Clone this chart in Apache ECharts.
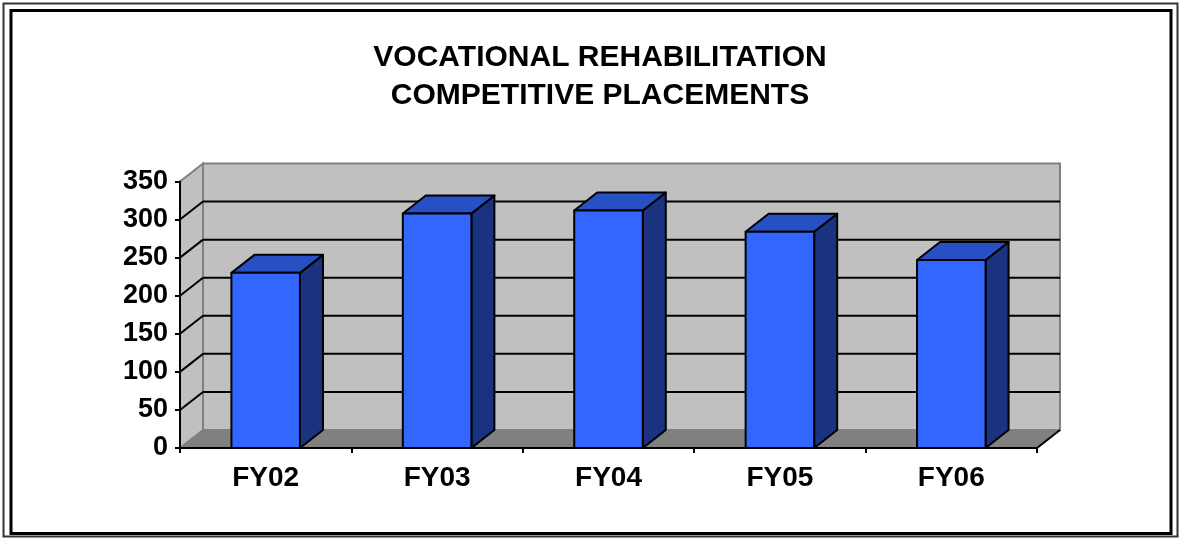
<!DOCTYPE html>
<html>
<head>
<meta charset="utf-8">
<script src="https://cdn.jsdelivr.net/npm/echarts@6/dist/echarts.min.js"></script>
<style>
  html, body { margin: 0; padding: 0; background: #fff; }
  #chart { width: 1181px; height: 538px; }
</style>
</head>
<body>
<div id="chart"></div>
<script>
// chart data
var titleLines = ['VOCATIONAL REHABILITATION', 'COMPETITIVE PLACEMENTS'];
var categories = ['FY02', 'FY03', 'FY04', 'FY05', 'FY06'];
var placements = [230, 308, 312, 284, 247];
var yMax = 350;
var yStep = 50;
var gridValues = [50, 100, 150, 200, 250, 300];

// 3d depth offset (px)
var DX = 23, DY = -18;
var FONT = '"Liberation Sans", Arial, sans-serif';

var myChart = echarts.init(document.getElementById('chart'));

var barData = categories.map(function(c, i) { return [i, placements[i]]; });

function renderWalls(params, api) {
    var cs = params.coordSys;
    var x0 = cs.x, x1 = cs.x + cs.width;
    var yt = api.coord([0, yMax])[1];
    var yb = api.coord([0, 0])[1];
    return {
        type: 'group',
        children: [{
            // back wall
            type: 'polygon',
            shape: { points: [[x0 + DX, yt + DY], [x1 + DX, yt + DY], [x1 + DX, yb + DY], [x0 + DX, yb + DY]] },
            style: { fill: '#c0c0c0', stroke: '#808080', lineWidth: 2 }
        }, {
            // left wall
            type: 'polygon',
            shape: { points: [[x0, yt], [x0 + DX, yt + DY], [x0 + DX, yb + DY], [x0, yb]] },
            style: { fill: '#c0c0c0', stroke: '#808080', lineWidth: 2 }
        }, {
            // floor
            type: 'polygon',
            shape: { points: [[x0, yb], [x0 + DX, yb + DY], [x1 + DX, yb + DY], [x1, yb]] },
            style: { fill: '#808080', stroke: '#808080', lineWidth: 1 }
        }, {
            type: 'line',
            shape: { x1: x1, y1: yb, x2: x1 + DX, y2: yb + DY },
            style: { stroke: '#000', lineWidth: 2 }
        }]
    };
}

function renderGridLine(params, api) {
    var cs = params.coordSys;
    var x0 = cs.x, x1 = cs.x + cs.width;
    var y = api.coord([0, api.value(0)])[1];
    return {
        type: 'group',
        children: [{
            type: 'line',
            shape: { x1: x0 + DX, y1: y + DY, x2: x1 + DX, y2: y + DY },
            style: { stroke: '#000', lineWidth: 2 }
        }, {
            type: 'line',
            shape: { x1: x0, y1: y, x2: x0 + DX, y2: y + DY },
            style: { stroke: '#000', lineWidth: 2 }
        }]
    };
}

function renderBar(params, api) {
    var top = api.coord([api.value(0), api.value(1)]);
    var base = api.coord([api.value(0), 0]);
    var bw = api.size([1, 0])[0] * 0.4;
    var xl = top[0] - bw / 2, xr = top[0] + bw / 2;
    var yt = top[1], yb = base[1];
    var edge = { stroke: '#000', lineWidth: 2, lineJoin: 'round' };
    return {
        type: 'group',
        children: [{
            type: 'polygon',
            shape: { points: [[xr, yt], [xr + DX, yt + DY], [xr + DX, yb + DY], [xr, yb]] },
            style: Object.assign({ fill: '#1a3380' }, edge)
        }, {
            type: 'polygon',
            shape: { points: [[xl, yt], [xl + DX, yt + DY], [xr + DX, yt + DY], [xr, yt]] },
            style: Object.assign({ fill: '#2650c4' }, edge)
        }, {
            type: 'polygon',
            shape: { points: [[xl, yt], [xr, yt], [xr, yb], [xl, yb]] },
            style: Object.assign({ fill: '#3366ff' }, edge)
        }]
    };
}

var option = {
    backgroundColor: '#ffffff',
    animation: false,
    graphic: [{
        type: 'rect',
        shape: { x: 3.5, y: 3.5, width: 1174, height: 533 },
        style: { fill: 'none', stroke: '#333', lineWidth: 2 }
    }, {
        type: 'rect',
        shape: { x: 11, y: 10.5, width: 1160, height: 523 },
        style: { fill: 'none', stroke: '#000', lineWidth: 3 }
    }, {
        type: 'text',
        x: 600,
        y: 39,
        style: {
            text: titleLines.join('\n'),
            fill: '#000',
            font: 'bold 30px ' + FONT,
            fontSize: 30,
            fontWeight: 'bold',
            fontFamily: FONT,
            lineHeight: 38,
            align: 'center',
            verticalAlign: 'top',
            textAlign: 'center',
            textVerticalAlign: 'top'
        }
    }],
    grid: {
        left: 180,
        right: 144,
        top: 181.5,
        bottom: 90
    },
    xAxis: {
        type: 'category',
        data: categories,
        z: 5,
        axisLine: { lineStyle: { color: '#000', width: 2 } },
        axisTick: { show: true, length: 5, lineStyle: { color: '#000', width: 2 } },
        axisLabel: {
            color: '#000',
            fontSize: 28,
            fontWeight: 'bold',
            fontFamily: FONT,
            margin: 16
        },
        splitLine: { show: false }
    },
    yAxis: {
        type: 'value',
        min: 0,
        max: yMax,
        interval: yStep,
        z: 5,
        axisLine: { show: true, lineStyle: { color: '#000', width: 2 } },
        axisTick: { show: true, length: 5, lineStyle: { color: '#000', width: 2 } },
        axisLabel: {
            color: '#000',
            fontSize: 27,
            fontWeight: 'bold',
            fontFamily: FONT,
            margin: 12
        },
        splitLine: { show: false }
    },
    series: [{
        type: 'custom',
        name: 'walls',
        silent: true,
        renderItem: renderWalls,
        data: [[0]]
    }, {
        type: 'custom',
        name: 'grid',
        silent: true,
        renderItem: renderGridLine,
        encode: { y: 0 },
        data: gridValues.map(function(v) { return [v]; })
    }, {
        type: 'custom',
        name: 'Competitive placements',
        renderItem: renderBar,
        encode: { x: 0, y: 1 },
        data: barData
    }]
};

myChart.setOption(option);
</script>
</body>
</html>
